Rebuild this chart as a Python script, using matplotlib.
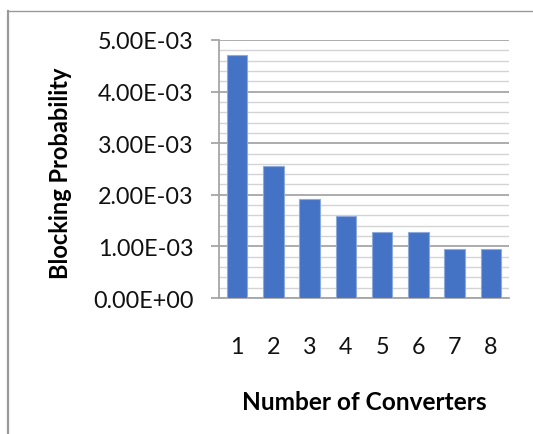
import matplotlib
matplotlib.use("Agg")
import matplotlib.pyplot as plt
from matplotlib.lines import Line2D
from matplotlib.ticker import MultipleLocator, FuncFormatter

converters = [1, 2, 3, 4, 5, 6, 7, 8]
blocking = [4.71e-3, 2.56e-3, 1.92e-3, 1.59e-3, 1.28e-3, 1.28e-3, 0.955e-3, 0.955e-3]
xlabel = "Number of Converters"
ylabel = "Blocking Probability"

plt.rcParams['font.family'] = ['Lato', 'DejaVu Sans']

fig = plt.figure(figsize=(5.33, 4.35), dpi=100)
ax = fig.add_axes([219/533, 1 - 299/435, 290/533, 258/435])

ax.bar(converters, blocking, width=0.56, color='#4472C4', edgecolor='#8eaadb', linewidth=0.8, zorder=3)

ax.set_xlim(0.5, 8.5)
ax.set_ylim(0, 5e-3)
ax.yaxis.set_major_locator(MultipleLocator(1e-3))
ax.yaxis.set_minor_locator(MultipleLocator(0.2e-3))

def fmt(v, pos):
    return "%.2E" % v
ax.yaxis.set_major_formatter(FuncFormatter(fmt))
ax.set_xticks(converters)
ax.set_xticklabels([str(c) for c in converters])

ax.grid(which='major', axis='y', color='#a6a6a6', linewidth=1.3, zorder=1)
ax.grid(which='minor', axis='y', color='#d4d4d4', linewidth=1.0, zorder=1)
ax.set_axisbelow(True)

for s in ['top', 'right']:
    ax.spines[s].set_visible(False)
for s in ['left', 'bottom']:
    ax.spines[s].set_color('#a6a6a6')
    ax.spines[s].set_linewidth(1.3)

ax.tick_params(axis='y', which='major', direction='out', length=5.8, width=1.3,
               color='#a6a6a6', labelsize=16.8, pad=12.5)
ax.tick_params(axis='y', which='minor', length=0)
ax.tick_params(axis='x', which='both', length=0, labelsize=16.8, pad=27)
for lab in ax.get_xticklabels() + ax.get_yticklabels():
    lab.set_color('#111111')

ax.set_xlabel(xlabel, fontsize=17.6, fontweight='bold', va='center')
ax.xaxis.set_label_coords(0.5, -0.403)
ax.set_ylabel(ylabel, fontsize=17, fontweight='bold', va='center')
ax.yaxis.set_label_coords(-0.548, 0.486)

# outer chart border (left and top visible)
fig.add_artist(Line2D([7.5/533, 7.5/533], [0, 1 - 11.5/435], transform=fig.transFigure,
                      color='#9a9a9a', linewidth=1.6))
fig.add_artist(Line2D([7.5/533, 1], [1 - 11.5/435, 1 - 11.5/435], transform=fig.transFigure,
                      color='#9a9a9a', linewidth=1.0))

fig.savefig("out.png", dpi=100)
